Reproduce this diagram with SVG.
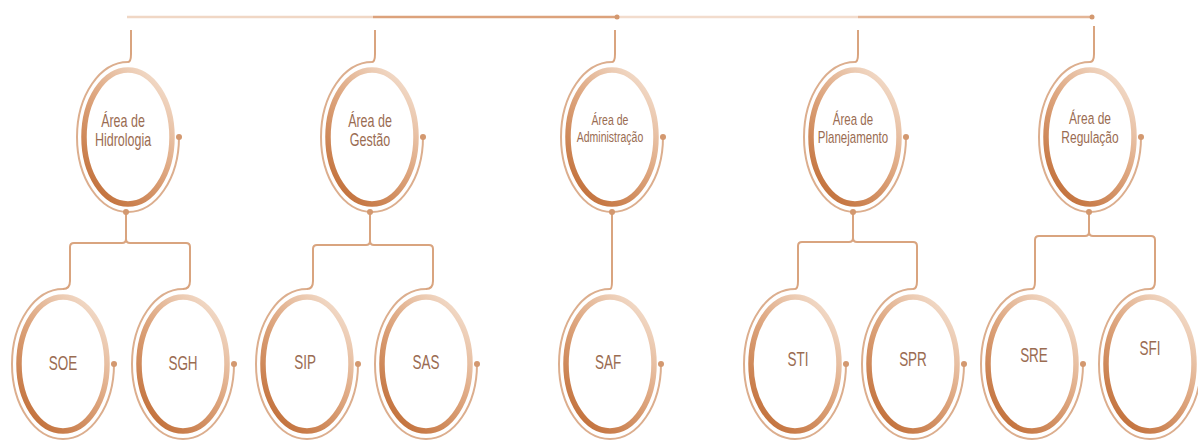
<svg xmlns="http://www.w3.org/2000/svg" width="1198" height="441" viewBox="0 0 1198 441">
<defs>
<linearGradient id="rg" x1="0.85" y1="0" x2="0.15" y2="1">
<stop offset="0" stop-color="#f4e0d0"/>
<stop offset="0.45" stop-color="#dfa983"/>
<stop offset="1" stop-color="#c06c35"/>
</linearGradient>
<style>
.inner{fill:#fff;stroke:url(#rg);stroke-width:5.5}
.outer{fill:none;stroke:#dcae8e;stroke-width:2}
.dot{fill:#d3986f}
.con{fill:none;stroke:#d9a47f;stroke-width:2}
.top{fill:none;stroke-width:2.5}
.lbl{fill:#9a6c52;font-family:"Liberation Sans",Arial,sans-serif;text-anchor:middle}
</style>
</defs>
<rect width="1198" height="441" fill="#fff"/>
<g id="connectors">
<path class="top" stroke="#f0d7c5" d="M127,17 H373"/>
<path class="top" stroke="#dca27c" d="M373,17 H616"/>
<path class="top" stroke="#f2dccd" d="M616,17 H858"/>
<path class="top" stroke="#e3b596" d="M858,17 H1092"/>
<circle class="dot" cx="617" cy="17" r="2.5"/>
<circle class="dot" cx="1092" cy="17" r="2.5"/>
<path class="con" d="M131,30 V54 Q131,62 128,62"/>
<path class="con" d="M375,30 V54 Q375,62 372,62"/>
<path class="con" d="M615,30 V54 Q615,62 612,62"/>
<path class="con" d="M858,30 V54 Q858,62 855,62"/>
<path class="con" d="M1094,26 V54 Q1094,62 1090,62"/>
<path class="con" d="M126,214 V239 Q126,243 122,243 H74 Q70,243 70,247 V281 Q70,289 63,289 M126,239 Q126,243 130,243 H186 Q190,243 190,247 V281 Q190,289 183,289"/>
<path class="con" d="M370,214 V241 Q370,245 366,245 H317 Q313,245 313,249 V281 Q313,289 307,289 M370,241 Q370,245 374,245 H429 Q433,245 433,249 V281 Q433,289 426,289"/>
<path class="con" d="M612,214 V281 Q612,289 610,289"/>
<path class="con" d="M853,214 V238 Q853,242 849,242 H802 Q798,242 798,246 V281 Q798,289 795,289 M853,238 Q853,242 857,242 H913 Q917,242 917,246 V281 Q917,289 913,289"/>
<path class="con" d="M1089,214 V232 Q1089,236 1085,236 H1039 Q1035,236 1035,240 V281 Q1035,289 1032,289 M1089,232 Q1089,236 1093,236 H1151 Q1155,236 1155,240 V281 Q1155,289 1150,289"/>
</g>
<g id="n-hidrologia">
<path class="outer" d="M128,62 A51,75 0 1 0 179,137"/><circle class="dot" cx="179" cy="137" r="3"/><circle class="dot" cx="126" cy="212" r="3"/>
<ellipse class="inner" cx="128" cy="137" rx="44" ry="67"/>
<text class="lbl" font-size="12.5" transform="translate(123,127) scale(1,1.4)">Área de</text>
<text class="lbl" font-size="12.5" transform="translate(123,146) scale(1,1.4)">Hidrologia</text>
</g>
<g id="n-gestao">
<path class="outer" d="M372,62 A51,75 0 1 0 423,137"/><circle class="dot" cx="423" cy="137" r="3"/><circle class="dot" cx="370" cy="212" r="3"/>
<ellipse class="inner" cx="372" cy="137" rx="44" ry="67"/>
<text class="lbl" font-size="12.5" transform="translate(370,127) scale(1,1.4)">Área de</text>
<text class="lbl" font-size="12.5" transform="translate(370,146) scale(1,1.4)">Gestão</text>
</g>
<g id="n-administracao">
<path class="outer" d="M612,62 A51,75 0 1 0 663,137"/><circle class="dot" cx="663" cy="137" r="3"/><circle class="dot" cx="612" cy="212" r="3"/>
<ellipse class="inner" cx="612" cy="137" rx="44" ry="67"/>
<text class="lbl" font-size="10.5" transform="translate(610,125) scale(1,1.4)">Área de</text>
<text class="lbl" font-size="10.5" transform="translate(610,142) scale(1,1.4)">Administração</text>
</g>
<g id="n-planejamento">
<path class="outer" d="M855,62 A51,75 0 1 0 906,137"/><circle class="dot" cx="906" cy="137" r="3"/><circle class="dot" cx="853" cy="212" r="3"/>
<ellipse class="inner" cx="855" cy="137" rx="44" ry="67"/>
<text class="lbl" font-size="11.5" transform="translate(853,125) scale(1,1.4)">Área de</text>
<text class="lbl" font-size="11.5" transform="translate(853,143) scale(1,1.4)">Planejamento</text>
</g>
<g id="n-regulacao">
<path class="outer" d="M1090,62 A51,75 0 1 0 1141,137"/><circle class="dot" cx="1141" cy="137" r="3"/><circle class="dot" cx="1089" cy="212" r="3"/>
<ellipse class="inner" cx="1090" cy="137" rx="44" ry="67"/>
<text class="lbl" font-size="12" transform="translate(1090,124) scale(1,1.4)">Área de</text>
<text class="lbl" font-size="12" transform="translate(1090,143) scale(1,1.4)">Regulação</text>
</g>
<g id="n-soe">
<path class="outer" d="M63,289 A51,75 0 1 0 114,364"/><circle class="dot" cx="114" cy="364" r="3"/>
<ellipse class="inner" cx="63" cy="364" rx="44" ry="67"/>
<text class="lbl" font-size="13.5" transform="translate(63,370) scale(1,1.55)">SOE</text>
</g>
<g id="n-sgh">
<path class="outer" d="M183,289 A51,75 0 1 0 234,364"/><circle class="dot" cx="234" cy="364" r="3"/>
<ellipse class="inner" cx="183" cy="364" rx="44" ry="67"/>
<text class="lbl" font-size="13.5" transform="translate(183,370) scale(1,1.55)">SGH</text>
</g>
<g id="n-sip">
<path class="outer" d="M307,289 A51,75 0 1 0 358,364"/><circle class="dot" cx="358" cy="364" r="3"/>
<ellipse class="inner" cx="307" cy="364" rx="44" ry="67"/>
<text class="lbl" font-size="13.5" transform="translate(305,369) scale(1,1.55)">SIP</text>
</g>
<g id="n-sas">
<path class="outer" d="M426,289 A51,75 0 1 0 477,364"/><circle class="dot" cx="477" cy="364" r="3"/>
<ellipse class="inner" cx="426" cy="364" rx="44" ry="67"/>
<text class="lbl" font-size="13.5" transform="translate(426,369) scale(1,1.55)">SAS</text>
</g>
<g id="n-saf">
<path class="outer" d="M610,289 A51,75 0 1 0 661,364"/><circle class="dot" cx="661" cy="364" r="3"/>
<ellipse class="inner" cx="610" cy="364" rx="44" ry="67"/>
<text class="lbl" font-size="13.5" transform="translate(608,369) scale(1,1.55)">SAF</text>
</g>
<g id="n-sti">
<path class="outer" d="M795,289 A51,75 0 1 0 846,364"/><circle class="dot" cx="846" cy="364" r="3"/>
<ellipse class="inner" cx="795" cy="364" rx="44" ry="67"/>
<text class="lbl" font-size="13.5" transform="translate(798,366) scale(1,1.55)">STI</text>
</g>
<g id="n-spr">
<path class="outer" d="M913,289 A51,75 0 1 0 964,364"/><circle class="dot" cx="964" cy="364" r="3"/>
<ellipse class="inner" cx="913" cy="364" rx="44" ry="67"/>
<text class="lbl" font-size="13.5" transform="translate(913,366) scale(1,1.55)">SPR</text>
</g>
<g id="n-sre">
<path class="outer" d="M1032,289 A51,75 0 1 0 1083,364"/><circle class="dot" cx="1083" cy="364" r="3"/>
<ellipse class="inner" cx="1032" cy="364" rx="44" ry="67"/>
<text class="lbl" font-size="13.5" transform="translate(1034,362) scale(1,1.55)">SRE</text>
</g>
<g id="n-sfi">
<path class="outer" d="M1150,289 A51,75 0 1 0 1201,364"/>
<ellipse class="inner" cx="1150" cy="364" rx="44" ry="67"/>
<text class="lbl" font-size="13.5" transform="translate(1150,355) scale(1,1.55)">SFI</text>
</g>
</svg>
